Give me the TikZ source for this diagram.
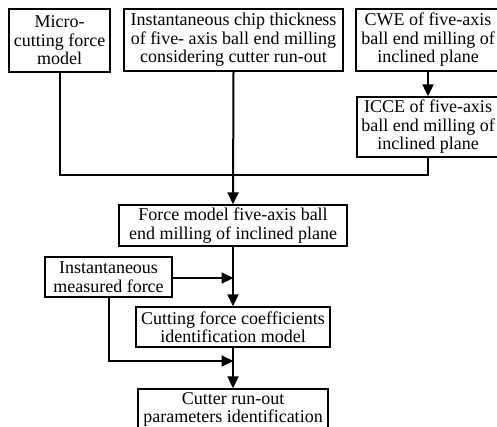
\documentclass[tikz,border=0pt]{standalone}
\usepackage{fontspec}
\setmainfont{Liberation Serif}
\usetikzlibrary{arrows.meta}
\begin{document}
\begin{tikzpicture}[x=1pt,y=-1pt,
  box/.style={draw,line width=1.3pt,inner sep=0pt,align=center,
    font=\fontsize{18}{18.5}\selectfont},
  conn/.style={line width=2pt},
  arr/.style={conn,-{Triangle[length=12pt,width=11pt]}}]
\useasboundingbox (0,0) rectangle (497,426);
\node[box,minimum width=101pt,minimum height=63pt] (A) at (59.5,40.5) {Micro-\\cutting force\\model};
\node[box,minimum width=219pt,minimum height=62pt] (B) at (233.5,40) {Instantaneous chip thickness\\of five- axis ball end milling\\considering cutter run-out};
\node[box,minimum width=144pt,minimum height=62pt] (C) at (428,40) {CWE of five-axis\\ball end milling of\\inclined plane};
\node[box,minimum width=142pt,minimum height=60pt] (D) at (428,127) {ICCE of five-axis\\ball end milling of\\inclined plane};
\node[box,minimum width=228pt,minimum height=41pt] (E) at (233,225.5) {Force model five-axis ball\\end milling of inclined plane};
\node[box,minimum width=127pt,minimum height=40pt] (F) at (108.5,277) {Instantaneous\\measured force};
\node[box,minimum width=194pt,minimum height=40pt] (G) at (233,327) {Cutting force coefficients\\identification model};
\node[box,minimum width=190pt,minimum height=41pt] (H) at (233,409.5) {Cutter run-out\\parameters identification};
\coordinate (j) at (233.5,175);
\coordinate (k) at (233.5,278);
\coordinate (m) at (233.5,361);
\draw[conn] (A.south) |- (j);
\draw[conn] (D.south) |- (j);
\draw[arr] (B.south) -- (E.north);
\draw[arr] (C.south) -- (D.north);
\draw[arr] (F.east |- k) -- (k);
\draw[arr] (E.south) -- (G.north);
\draw[arr] (F.south) |- (m);
\draw[arr] (G.south) -- (H.north);
\end{tikzpicture}
\end{document}
